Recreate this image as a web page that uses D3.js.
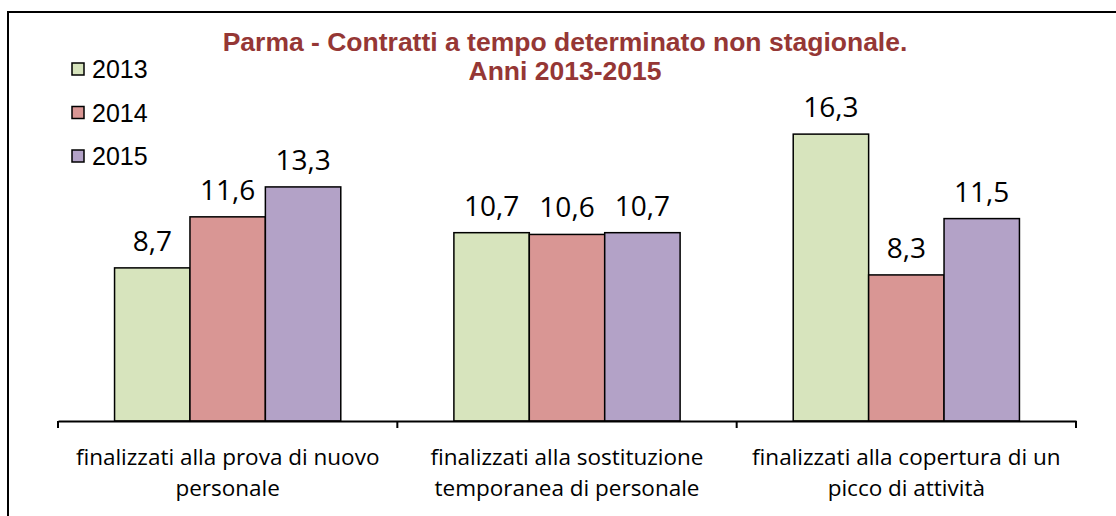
<!DOCTYPE html>
<meta charset="utf-8">
<style>
body { margin: 0; background: #fff; }
.bar { stroke: #000; stroke-width: 1.5px; }
.lbl { font-family: "Open Sans", sans-serif; font-size: 28px; fill: #000; }
.cat { font-family: "Open Sans", sans-serif; font-size: 22.5px; fill: #000; }
.leg { font-family: "Liberation Sans", Arial, sans-serif; font-size: 25px; fill: #000; }
.title { font-family: "Liberation Sans Narrow", "Liberation Sans", Arial, sans-serif; font-weight: bold; font-size: 26.5px; fill: #953735; }
</style>
<body>
<script src="https://d3js.org/d3.v7.min.js"></script>
<script>
// data
var categories = [
  ["finalizzati alla prova di nuovo", "personale"],
  ["finalizzati alla sostituzione", "temporanea di personale"],
  ["finalizzati alla copertura di un", "picco di attività"]
];
var years = ["2013", "2014", "2015"];
var values2013 = [8.7, 10.7, 16.3];
var values2014 = [11.6, 10.6, 8.3];
var values2015 = [13.3, 10.7, 11.5];
var colors = ["#D7E4BD", "#D99694", "#B3A2C7"];

var series = [values2013, values2014, values2015];

var W = 1116, H = 516;
var svg = d3.select("body").append("svg")
    .attr("width", W)
    .attr("height", H);

// chart border (only top/left visible in the crop)
svg.append("rect")
    .attr("x", 8).attr("y", 12)
    .attr("width", 1130).attr("height", 530)
    .attr("fill", "none")
    .attr("stroke", "#000")
    .attr("stroke-width", 2);

var catIdx = categories.map(function(d, i) { return i; });

var x = d3.scaleBand().domain(catIdx).range([58, 1076]);
var xs = d3.scaleBand().domain(d3.range(years.length))
    .range([0, x.bandwidth()]).paddingOuter(0.75);
var y = d3.scaleLinear().domain([0, 18]).range([421, 104.2]);

// bars
series.forEach(function(vals, s) {
  svg.append("g").selectAll("rect")
    .data(vals)
    .enter().append("rect")
      .attr("class", "bar")
      .attr("x", function(d, i) { return x(i) + xs(s); })
      .attr("y", function(d) { return y(d); })
      .attr("width", xs.bandwidth())
      .attr("height", function(d) { return y(0) - y(d); })
      .attr("fill", colors[s]);

  svg.append("g").selectAll("text")
    .data(vals)
    .enter().append("text")
      .attr("class", "lbl")
      .attr("x", function(d, i) { return x(i) + xs(s) + xs.bandwidth() / 2; })
      .attr("y", function(d) { return y(d) - 17; })
      .attr("text-anchor", "middle")
      .text(function(d) { return d.toFixed(1).replace(".", ","); });
});

// x axis
var axis = svg.append("g")
    .attr("transform", "translate(0,421)")
    .call(d3.axisBottom(x).tickSize(0).tickFormat(""));
axis.select(".domain").attr("stroke", "#000").attr("stroke-width", 2);

var bounds = catIdx.map(function(i) { return x(i); }).concat([x.range()[1]]);
svg.append("g").selectAll("line")
  .data(bounds)
  .enter().append("line")
    .attr("x1", function(d) { return d; })
    .attr("x2", function(d) { return d; })
    .attr("y1", 421).attr("y2", 428)
    .attr("stroke", "#000").attr("stroke-width", 2);

// category labels
categories.forEach(function(lines, i) {
  var t = svg.append("text")
      .attr("class", "cat")
      .attr("text-anchor", "middle")
      .attr("x", x(i) + x.bandwidth() / 2)
      .attr("y", 465);
  lines.forEach(function(l, k) {
    t.append("tspan")
      .attr("x", x(i) + x.bandwidth() / 2)
      .attr("dy", k ? 31 : 0)
      .text(l);
  });
});

// legend
var leg = svg.append("g").selectAll("g")
  .data(years)
  .enter().append("g")
    .attr("transform", function(d, i) { return "translate(72," + (63 + i * 43.5) + ")"; });
leg.append("rect")
    .attr("width", 12).attr("height", 12)
    .attr("fill", function(d, i) { return colors[i]; })
    .attr("stroke", "#000").attr("stroke-width", 1.5);
leg.append("text")
    .attr("class", "leg")
    .attr("x", 20).attr("y", 15)
    .text(function(d) { return d; });

// title
svg.append("text")
    .attr("class", "title")
    .attr("text-anchor", "middle")
    .attr("x", 565).attr("y", 51)
    .text("Parma - Contratti a tempo determinato non stagionale.");
svg.append("text")
    .attr("class", "title")
    .attr("text-anchor", "middle")
    .attr("x", 565).attr("y", 80)
    .text("Anni 2013-2015");
</script>
</body>
